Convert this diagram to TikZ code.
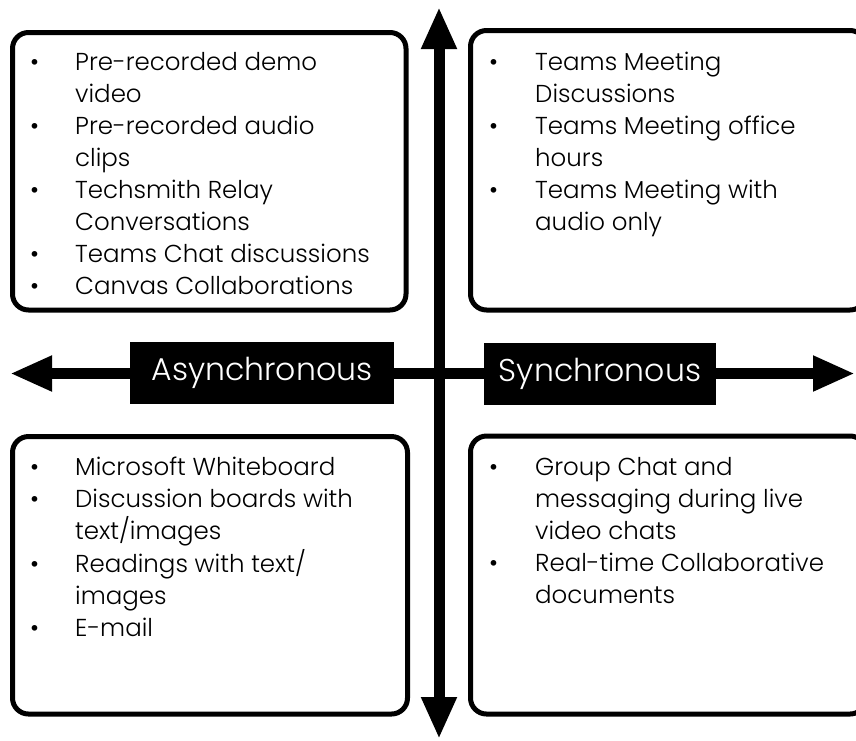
\documentclass[tikz,border=0pt]{standalone}
\usepackage{fontspec}
\setmainfont{Poppins}[UprightFont=* Light]
\usetikzlibrary{arrows.meta}
\tikzset{
  qbox/.style={draw=black, line width=5pt, rounded corners=16pt, inner sep=0pt},
  lab/.style={fill=black, text=white, inner sep=0pt, font=\fontsize{31.5pt}{36pt}\selectfont},
  axis/.style={line width=11pt, {Triangle[length=42pt,width=33pt]}-{Triangle[length=42pt,width=33pt]}},
  items/.style={anchor=base west, inner sep=0pt, align=left, font=\fontsize{24.5pt}{32pt}\selectfont}
}
\newcommand\itm{\textbullet}
\begin{document}
\begin{tikzpicture}[x=1pt,y=-1pt]
\useasboundingbox (0,0) rectangle (856,740);
\clip (0,0) rectangle (856,740);
% quadrant boxes
\node (tl) [qbox, minimum width=393.5pt, minimum height=277.5pt] at (209.25,171.25) {};
\node (tr) [qbox, minimum width=395.5pt, minimum height=279.5pt] at (668.25,170.25) {};
\node (bl) [qbox, minimum width=395pt, minimum height=277.5pt] at (210,575.25) {};
\node (br) [qbox, minimum width=395.5pt, minimum height=278pt] at (668.25,575) {};
% axes
\coordinate (left) at (10,373.5);
\coordinate (right) at (855,373.5);
\coordinate (top) at (439,7);
\coordinate (bottom) at (439,739);
\draw[axis] (left) -- (right);
\draw[axis] (top) -- (bottom);
% labels
\node (async) [lab, minimum width=264pt, minimum height=62pt] at (262,373) {Asynchronous\hspace{10pt}};
\node (sync) [lab, minimum width=232pt, minimum height=62pt] at (600,374) {Synchronous};
% texts
\node (tltext) [items] at (30,70) {\begin{tabular}[t]{@{}p{45pt}@{}l@{}}
\itm & Pre-recorded demo\\
 & video\\
\itm & Pre-recorded audio\\
 & clips\\
\itm & Techsmith Relay\\
 & Conversations\\
\itm & Teams Chat discussions\\
\itm & Canvas Collaborations
\end{tabular}};
\node (trtext) [items] at (489,70) {\begin{tabular}[t]{@{}p{46pt}@{}l@{}}
\itm & Teams Meeting\\
 & Discussions\\
\itm & Teams Meeting office\\
 & hours\\
\itm & Teams Meeting with\\
 & audio only
\end{tabular}};
\node (bltext) [items] at (30,475) {\begin{tabular}[t]{@{}p{45pt}@{}l@{}}
\itm & Microsoft Whiteboard\\
\itm & Discussion boards with\\
 & text/images\\
\itm & Readings with text/\\
 & images\\
\itm & E-mail
\end{tabular}};
\node (brtext) [items] at (489,475) {\begin{tabular}[t]{@{}p{46pt}@{}l@{}}
\itm & Group Chat and\\
 & messaging during live\\
 & video chats\\
\itm & Real-time Collaborative\\
 & documents
\end{tabular}};
\end{tikzpicture}
\end{document}
